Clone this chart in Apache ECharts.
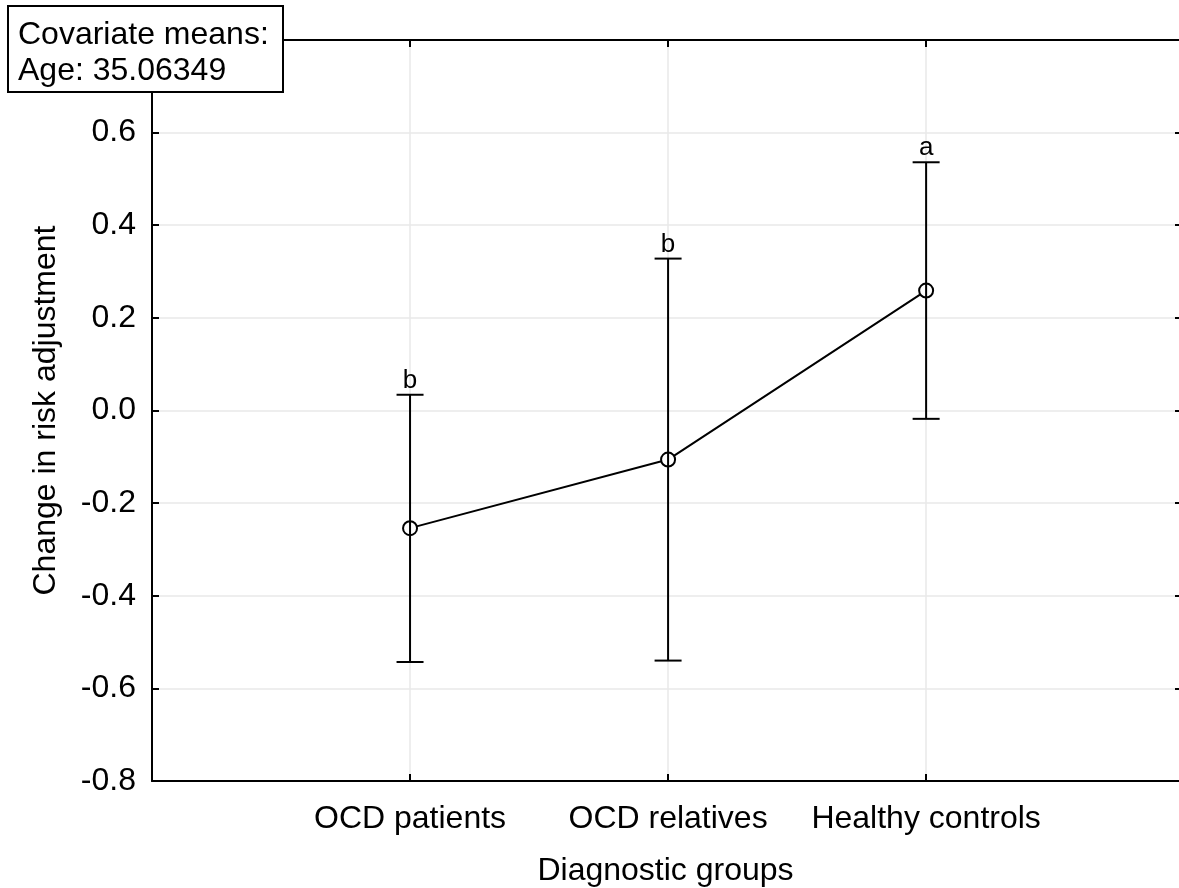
<!DOCTYPE html>
<html>
<head>
<meta charset="utf-8">
<script src="https://cdn.jsdelivr.net/npm/echarts@6/dist/echarts.min.js"></script>
<style>html,body{margin:0;padding:0;background:#fff}#c{width:1179px;height:888px}</style>
</head>
<body>
<div id="c"></div>
<script>
const categories = ['OCD patients', 'OCD relatives', 'Healthy controls'];
const means = [-0.254, -0.106, 0.259];
const upper = [0.034, 0.328, 0.536];
const lower = [-0.543, -0.540, -0.018];
const letters = ['b', 'b', 'a'];
const yTicks = [-0.8, -0.6, -0.4, -0.2, 0.0, 0.2, 0.4, 0.6, 0.8];

const FONT = 'Liberation Sans, Arial, sans-serif';
const FS = 32;
const X_MAX = 3.98;
const chart = echarts.init(document.getElementById('c'));

const lineData = means.map((m, i) => [i + 1, m]);
const errData = means.map((m, i) => [i + 1, lower[i], upper[i], letters[i]]);

const axLine = { show: true, onZero: false, lineStyle: { color: '#000', width: 2 } };
const axTick = { show: true, inside: true, length: 7, lineStyle: { color: '#000', width: 2 } };

chart.setOption({
  animation: false,
  backgroundColor: '#fff',
  grid: { left: 152, right: 0, top: 40, bottom: 107, containLabel: false, outerBoundsMode: 'none' },
  xAxis: [
    {
      type: 'value', min: 0, max: X_MAX, interval: 1, position: 'bottom',
      axisLine: axLine,
      axisTick: Object.assign({ customValues: [1, 2, 3] }, axTick),
      name: 'Diagnostic groups', nameLocation: 'middle', nameGap: 74,
      nameTextStyle: { color: '#000', fontSize: FS, fontFamily: FONT },
      axisLabel: { show: true, color: '#000', fontSize: FS, fontFamily: FONT, margin: 22,
        customValues: [1, 2, 3],
        formatter: v => categories[Math.round(v) - 1] || '' },
      splitLine: { show: true, lineStyle: { color: '#e8e8e8', width: 1.5 } }
    },
    {
      type: 'value', min: 0, max: X_MAX, interval: 1, position: 'top',
      axisLine: axLine,
      axisTick: Object.assign({ customValues: [1, 2, 3] }, axTick),
      axisLabel: { show: false },
      splitLine: { show: false }
    }
  ],
  yAxis: [
    {
      type: 'value', min: -0.8, max: 0.8, interval: 0.2, position: 'left',
      name: 'Change in risk adjustment', nameLocation: 'middle', nameGap: 90,
      nameTextStyle: { color: '#000', fontSize: FS, fontFamily: FONT },
      axisLine: axLine,
      axisTick: axTick,
      axisLabel: { color: '#000', fontSize: FS, fontFamily: FONT, margin: 16,
        formatter: v => (Math.abs(v - 0.8) < 1e-9 ? '' : v.toFixed(1)) },
      splitLine: { show: true, lineStyle: { color: '#e8e8e8', width: 1.5 } }
    },
    {
      type: 'value', min: -0.8, max: 0.8, interval: 0.2, position: 'right',
      axisLine: { show: false, onZero: false },
      axisTick: { show: true, inside: true, length: 4, lineStyle: { color: '#000', width: 2 } },
      axisLabel: { show: false },
      splitLine: { show: false }
    }
  ],
  series: [
    {
      type: 'line',
      data: lineData,
      z: 2,
      symbol: 'circle', symbolSize: 14,
      lineStyle: { color: '#000', width: 2 },
      itemStyle: { color: '#fff', borderColor: '#000', borderWidth: 2 }
    },
    {
      type: 'custom',
      data: errData,
      z: 3,
      renderItem: function (params, api) {
        const x = api.value(0);
        const lo = api.coord([x, api.value(1)]);
        const hi = api.coord([x, api.value(2)]);
        const hw = 13.5;
        const st = { stroke: '#000', lineWidth: 2 };
        return {
          type: 'group',
          children: [
            { type: 'line', shape: { x1: lo[0], y1: lo[1], x2: hi[0], y2: hi[1] }, style: st },
            { type: 'line', shape: { x1: lo[0] - hw, y1: lo[1], x2: lo[0] + hw, y2: lo[1] }, style: st },
            { type: 'line', shape: { x1: hi[0] - hw, y1: hi[1], x2: hi[0] + hw, y2: hi[1] }, style: st },
            { type: 'text', style: { text: api.value(3), x: hi[0], y: hi[1] - 1,
                align: 'center', verticalAlign: 'bottom', fill: '#000', fontSize: 26, fontFamily: FONT } }
          ]
        };
      }
    }
  ],
  graphic: [
    {
      type: 'group', left: 7, top: 5, z: 100, zlevel: 1,
      children: [
        { type: 'rect', z: 100, zlevel: 1, shape: { x: 0, y: 0, width: 275, height: 86 },
          style: { fill: '#fff', stroke: '#000', lineWidth: 2 } },
        { type: 'text', z: 101, zlevel: 1, style: { text: 'Covariate means:', x: 10, y: 29, verticalAlign: 'middle',
            fill: '#000', fontSize: FS, fontFamily: FONT } },
        { type: 'text', z: 101, zlevel: 1, style: { text: 'Age: 35.06349', x: 10, y: 65, verticalAlign: 'middle',
            fill: '#000', fontSize: FS, fontFamily: FONT } }
      ]
    }
  ]
});
</script>
</body>
</html>
